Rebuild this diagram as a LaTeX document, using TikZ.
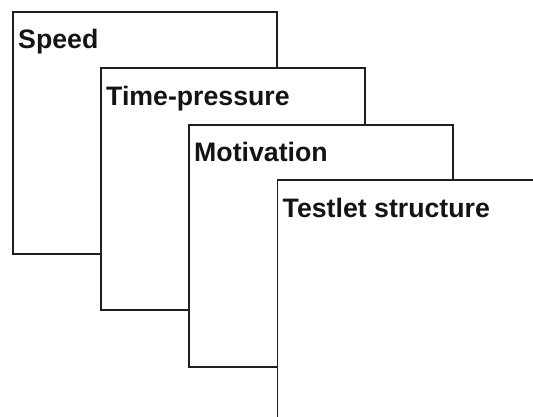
\documentclass[tikz,border=0pt]{standalone}
\usepackage{fontspec}
\setmainfont{Liberation Sans}
\begin{document}
\begin{tikzpicture}[x=1pt,y=-1pt,
  card/.style={draw=black!88, line width=1.6pt, fill=white, rectangle,
    minimum width=264pt, minimum height=242pt, inner sep=0pt, anchor=north west},
  cardlabel/.style={anchor=base west, inner sep=0pt,
    font=\fontsize{26.7}{31}\selectfont\bfseries, text=black!92}]
\useasboundingbox (0,0) rectangle (533,417);
\clip (0,0) rectangle (533,417);
\node[card] (c1) at (12,11) {};
\node[cardlabel] (l1) at ([xshift=6pt,yshift=-37.5pt]c1.north west) {Speed};
\node[card] (c2) at (100,67) {};
\node[cardlabel] (l2) at ([xshift=6pt,yshift=-39pt]c2.north west) {Time-pressure};
\node[card] (c3) at (188,124) {};
\node[cardlabel] (l3) at ([xshift=6pt,yshift=-38pt]c3.north west) {Motivation};
\node[card] (c4) at (276.5,179) {};
\node[cardlabel] (l4) at ([xshift=6pt,yshift=-38pt]c4.north west) {Testlet structure};
\end{tikzpicture}
\end{document}
